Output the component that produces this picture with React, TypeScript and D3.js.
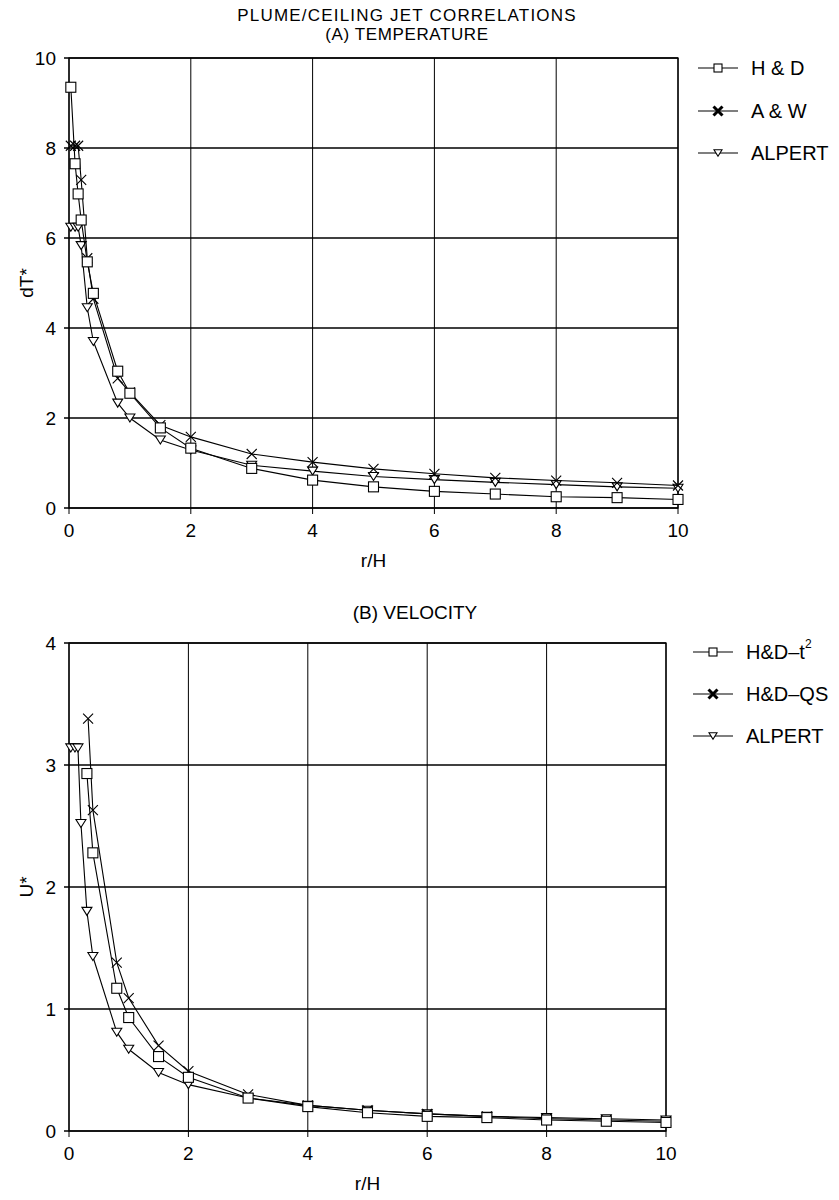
import React from "react";
import * as d3 from "d3";

// ---------- data ----------
const tempX = [0.03, 0.1, 0.15, 0.2, 0.3, 0.4, 0.8, 1, 1.5, 2, 3, 4, 5, 6, 7, 8, 9, 10];
const hdTemp = [9.35, 7.65, 6.98, 6.4, 5.47, 4.77, 3.04, 2.55, 1.78, 1.33, 0.88, 0.62, 0.47, 0.37, 0.31, 0.25, 0.23, 0.19];
const awTemp = [8.05, 8.05, 8.05, 7.29, 5.55, 4.65, 2.88, 2.57, 1.84, 1.58, 1.2, 1.02, 0.87, 0.76, 0.67, 0.61, 0.56, 0.5];
const alpTemp = [6.24, 6.24, 6.24, 5.83, 4.45, 3.7, 2.33, 2.0, 1.51, 1.29, 0.95, 0.82, 0.7, 0.63, 0.57, 0.52, 0.47, 0.44];

const hdT2X = [0.3, 0.4, 0.8, 1, 1.5, 2, 3, 4, 5, 6, 7, 8, 9, 10];
const hdT2Vel = [2.93, 2.28, 1.17, 0.93, 0.61, 0.44, 0.27, 0.2, 0.15, 0.12, 0.11, 0.09, 0.08, 0.07];
const hdQSX = [0.32, 0.4, 0.8, 1, 1.5, 2, 3, 4, 5, 6, 7, 8, 9, 10];
const hdQSVel = [3.38, 2.63, 1.38, 1.09, 0.7, 0.49, 0.3, 0.21, 0.17, 0.14, 0.12, 0.1, 0.09, 0.08];
const alpVelX = [0.03, 0.1, 0.15, 0.2, 0.3, 0.4, 0.8, 1, 1.5, 2, 3, 4, 5, 6, 7, 8, 9, 10];
const alpVel = [3.14, 3.14, 3.14, 2.52, 1.8, 1.43, 0.81, 0.67, 0.48, 0.38, 0.27, 0.21, 0.17, 0.14, 0.12, 0.11, 0.1, 0.09];

const xTicks = [0, 2, 4, 6, 8, 10];
const tempTicks = [0, 2, 4, 6, 8, 10];
const velTicks = [0, 1, 2, 3, 4];

const topLegend = ["H & D", "A & W", "ALPERT"];
const botLegend = ["H&D–t", "H&D–QS", "ALPERT"];

const FONT = "'Liberation Sans', Arial, Helvetica, sans-serif";

type Kind = "square" | "x" | "tri";

function Marker({ kind, cx, cy, s = 10, bold = false }: { kind: Kind; cx: number; cy: number; s?: number; bold?: boolean }) {
  const h = s / 2;
  if (kind === "square")
    return <rect x={cx - h} y={cy - h} width={s} height={s} fill="white" stroke="black" strokeWidth={1.1} />;
  if (kind === "x")
    return (
      <path
        d={`M${cx - h},${cy - h}L${cx + h},${cy + h}M${cx - h},${cy + h}L${cx + h},${cy - h}`}
        stroke="black"
        strokeWidth={bold ? 3 : 1.1}
        fill="none"
      />
    );
  return (
    <path
      d={`M${cx - h},${cy - h * 0.8}L${cx + h},${cy - h * 0.8}L${cx},${cy + h * 0.8}Z`}
      fill="white"
      stroke="black"
      strokeWidth={1.1}
    />
  );
}

function Series({ xs, ys, x, y, kind }: { xs: number[]; ys: number[]; x: any; y: any; kind: Kind }) {
  const pts = xs.map((v, i) => [v, ys[i]] as [number, number]);
  const line = d3.line<[number, number]>().x((d) => x(d[0])).y((d) => y(d[1]));
  return (
    <g>
      <path d={line(pts) || ""} fill="none" stroke="black" strokeWidth={1.1} />
      {pts.map((p, i) => (
        <Marker key={i} kind={kind} cx={x(p[0])} cy={y(p[1])} />
      ))}
    </g>
  );
}

function Panel({ x, y, yTicks, yLabel }: { x: any; y: any; yTicks: number[]; yLabel: string }) {
  const [x0, x1] = x.range();
  const [y0, y1] = y.range();
  return (
    <g>
      {xTicks.map((t) => (
        <line key={"vx" + t} x1={x(t)} x2={x(t)} y1={y1} y2={y0 + 6} stroke="black" strokeWidth={1} />
      ))}
      {yTicks.map((t) => (
        <line key={"hy" + t} x1={x0 - 5} x2={x1} y1={y(t)} y2={y(t)} stroke="black" strokeWidth={1.3} />
      ))}
      <rect x={x0} y={y1} width={x1 - x0} height={y0 - y1} fill="none" stroke="black" strokeWidth={1.3} />
      {xTicks.map((t) => (
        <text key={"tx" + t} x={x(t)} y={y0 + 22} textAnchor="middle" dominantBaseline="central" fontSize={19} fontFamily={FONT}>
          {t}
        </text>
      ))}
      {yTicks.map((t) => (
        <text key={"ty" + t} x={56} y={y(t)} textAnchor="end" dominantBaseline="central" fontSize={19} fontFamily={FONT}>
          {t}
        </text>
      ))}
      <text x={(x0 + x1) / 2} y={y0 + 52} textAnchor="middle" dominantBaseline="central" fontSize={19} fontFamily={FONT}>
        r/H
      </text>
      <text
        transform={`translate(26,${(y0 + y1) / 2}) rotate(-90)`}
        textAnchor="middle"
        dominantBaseline="central"
        fontSize={19}
        fontFamily={FONT}
      >
        {yLabel}
      </text>
    </g>
  );
}

function Legend({ labels, kinds, lx, ys, sup }: { labels: string[]; kinds: Kind[]; lx: number; ys: number[]; sup?: boolean }) {
  return (
    <g>
      {labels.map((lab, i) => (
        <g key={lab}>
          <line x1={lx} x2={lx + 40} y1={ys[i]} y2={ys[i]} stroke="black" strokeWidth={1.1} />
          <Marker kind={kinds[i]} cx={lx + 20} cy={ys[i]} s={kinds[i] === "x" ? 9 : 8} bold={kinds[i] === "x"} />
          <text x={lx + 53} y={ys[i]} dominantBaseline="central" fontSize={20} fontFamily={FONT}>
            {lab}
            {sup && i === 0 ? (
              <tspan fontSize={12} dy={-8}>
                2
              </tspan>
            ) : null}
          </text>
        </g>
      ))}
    </g>
  );
}

export default function App() {
  const xT = d3.scaleLinear().domain([0, 10]).range([69, 678]);
  const yT = d3.scaleLinear().domain([0, 10]).range([508, 58]);
  const xB = d3.scaleLinear().domain([0, 10]).range([69, 666]);
  const yB = d3.scaleLinear().domain([0, 4]).range([1131, 643]);
  const kinds: Kind[] = ["square", "x", "tri"];

  return (
    <svg
      width={839}
      height={1200}
      style={{ position: "absolute", left: 0, top: 0, background: "white" }}
      xmlns="http://www.w3.org/2000/svg"
    >
      <rect x={0} y={0} width={839} height={1200} fill="white" />
      <text x={407} y={15} textAnchor="middle" dominantBaseline="central" fontSize={17} letterSpacing={1.2} fontFamily={FONT}>
        PLUME/CEILING JET CORRELATIONS
      </text>
      <text x={407} y={34} textAnchor="middle" dominantBaseline="central" fontSize={17} letterSpacing={0.6} fontFamily={FONT}>
        (A) TEMPERATURE
      </text>

      <Panel x={xT} y={yT} yTicks={tempTicks} yLabel="dT*" />
      <Series xs={tempX} ys={alpTemp} x={xT} y={yT} kind="tri" />
      <Series xs={tempX} ys={awTemp} x={xT} y={yT} kind="x" />
      <Series xs={tempX} ys={hdTemp} x={xT} y={yT} kind="square" />
      <Legend labels={topLegend} kinds={kinds} lx={698} ys={[68, 111, 153]} />

      <text x={415} y={612} textAnchor="middle" dominantBaseline="central" fontSize={19} fontFamily={FONT}>
        (B) VELOCITY
      </text>
      <Panel x={xB} y={yB} yTicks={velTicks} yLabel="U*" />
      <Series xs={alpVelX} ys={alpVel} x={xB} y={yB} kind="tri" />
      <Series xs={hdQSX} ys={hdQSVel} x={xB} y={yB} kind="x" />
      <Series xs={hdT2X} ys={hdT2Vel} x={xB} y={yB} kind="square" />
      <Legend labels={botLegend} kinds={kinds} lx={693} ys={[652, 694, 736]} sup />
    </svg>
  );
}
